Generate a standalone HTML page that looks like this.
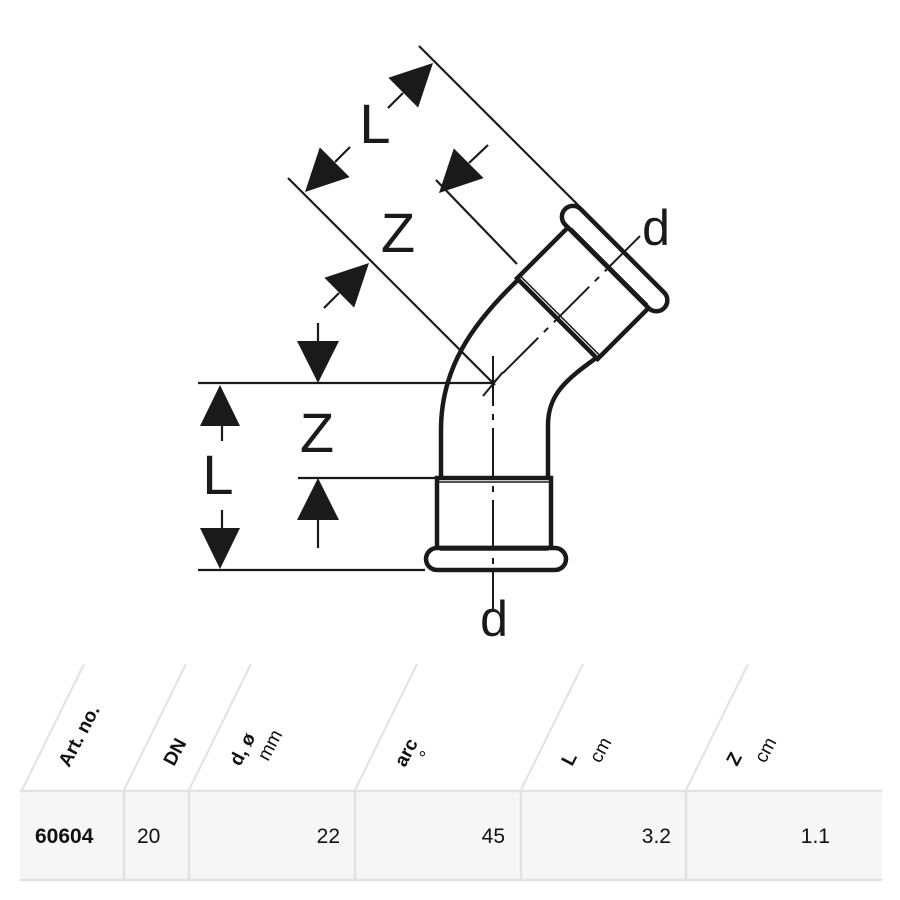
<!DOCTYPE html>
<html><head><meta charset="utf-8"><style>
html,body{margin:0;padding:0;background:#fff;}
svg{display:block;}
</style></head><body>
<svg width="900" height="900" viewBox="0 0 900 900" xmlns="http://www.w3.org/2000/svg">
<g stroke="#1a1a1a" fill="none" stroke-width="2.2">
  <line x1="198" y1="383" x2="495" y2="383"/>
  <line x1="298" y1="478" x2="437" y2="478"/>
  <line x1="198" y1="570" x2="425" y2="570"/>
  <line x1="288" y1="178" x2="495" y2="385"/>
  <line x1="419" y1="46" x2="582" y2="209"/>
  <line x1="436" y1="180" x2="517" y2="264"/>
  <line x1="222" y1="426" x2="222" y2="441"/>
  <line x1="222" y1="510" x2="222" y2="528"/>
  <line x1="318" y1="323" x2="318" y2="341"/>
  <line x1="318" y1="520" x2="318" y2="548"/>
  <line x1="403" y1="93" x2="388" y2="108"/>
  <line x1="335" y1="162" x2="350" y2="147"/>
  <line x1="469" y1="163" x2="488" y2="145"/>
  <line x1="339" y1="293" x2="324" y2="308"/>
</g>
<g fill="#1a1a1a">
  <polygon points="220,385 200,426 240,426"/>
  <polygon points="220,569 200,528 240,528"/>
  <polygon points="318,383 297,341 339,341"/>
  <polygon points="318,478 297,520 339,520"/>
  <polygon points="433,63 418.1,107.6 388.4,77.8"/>
  <polygon points="305,192 349.6,177.1 319.8,147.4"/>
  <polygon points="439,193 483.6,178.1 453.8,148.4"/>
  <polygon points="369,263 354.1,307.6 324.4,277.8"/>
</g>
<g font-family="Liberation Sans, sans-serif" fill="#1a1a1a" font-weight="normal">
  <text x="218" y="494" font-size="56" text-anchor="middle">L</text>
  <text x="317" y="452" font-size="56" text-anchor="middle">Z</text>
  <text x="375" y="143" font-size="56" text-anchor="middle">L</text>
  <text x="398" y="252" font-size="56" text-anchor="middle">Z</text>
  <text x="656" y="245" font-size="50" text-anchor="middle">d</text>
  <text x="494" y="636" font-size="50" text-anchor="middle">d</text>
</g>
<g stroke="#1a1a1a" fill="none">
  <path d="M441,478 L441,430 C441,370 470,325 521,277" stroke-width="4.5"/>
  <path d="M548,478 L548,425 C548,395 565,380 599,356" stroke-width="4.5"/>
  <rect x="437" y="478" width="114" height="70" stroke-width="4.5" fill="#fff"/>
  <line x1="439" y1="482" x2="549" y2="482" stroke-width="1.5"/>
  <rect x="426" y="548" width="140" height="22" rx="11" stroke-width="4.5" fill="#fff"/>
  <line x1="440" y1="550" x2="548" y2="550" stroke-width="1.5"/>
  <g transform="rotate(-135 493 383) translate(0 -4)">
    <rect x="436" y="478" width="114" height="72" stroke-width="4.5" fill="#fff"/>
    <line x1="438" y1="482" x2="548" y2="482" stroke-width="1.5"/>
    <rect x="425" y="550" width="140" height="22" rx="11" stroke-width="4.5" fill="#fff"/>
    <line x1="439" y1="552" x2="547" y2="552" stroke-width="1.5"/>
  </g>
  <line x1="493" y1="356" x2="493" y2="610" stroke-width="2" stroke-dasharray="50,8,6,8"/>
  <line x1="493" y1="383" x2="640" y2="236" stroke-width="2" stroke-dasharray="6,8,50,8"/>
  <line x1="483" y1="396" x2="503" y2="372" stroke-width="2"/>
</g>
<g stroke="#e2e2e2" stroke-width="2" fill="none">
  <line x1="22" y1="790" x2="84" y2="664"/>
  <line x1="124" y1="790" x2="186" y2="664"/>
  <line x1="189" y1="790" x2="251" y2="664"/>
  <line x1="355" y1="790" x2="417" y2="664"/>
  <line x1="521" y1="790" x2="583" y2="664"/>
  <line x1="686" y1="790" x2="748" y2="664"/>
</g>
<rect x="20" y="790" width="862" height="90" fill="#f6f6f6"/>
<g stroke="#e2e2e2" stroke-width="2.5">
  <line x1="20" y1="791" x2="882" y2="791"/>
  <line x1="20" y1="880" x2="882" y2="880"/>
  <line x1="124" y1="790" x2="124" y2="880"/>
  <line x1="189" y1="790" x2="189" y2="880"/>
  <line x1="355" y1="790" x2="355" y2="880"/>
  <line x1="521" y1="790" x2="521" y2="880"/>
  <line x1="686" y1="790" x2="686" y2="880"/>
</g>
<g font-family="Liberation Sans, sans-serif" fill="#111" font-size="19">
  <text transform="translate(69,768) rotate(-62)" font-weight="bold">Art. no.</text>
  <text transform="translate(174,767) rotate(-62)" font-weight="bold">DN</text>
  <text transform="translate(240,767) rotate(-62)" font-weight="bold">d, ø</text>
  <text transform="translate(268,762) rotate(-62)">mm</text>
  <text transform="translate(405,768) rotate(-62)" font-weight="bold">arc</text>
  <text transform="translate(430,762) rotate(-62)">°</text>
  <text transform="translate(572,767) rotate(-62)" font-weight="bold">L</text>
  <text transform="translate(600,764) rotate(-62)">cm</text>
  <text transform="translate(737,767) rotate(-62)" font-weight="bold">Z</text>
  <text transform="translate(765,764) rotate(-62)">cm</text>
</g>
<g font-family="Liberation Sans, sans-serif" fill="#111" font-size="21">
  <text x="35" y="843" font-weight="bold">60604</text>
  <text x="137" y="843">20</text>
  <text x="340" y="843" text-anchor="end">22</text>
  <text x="505" y="843" text-anchor="end">45</text>
  <text x="671" y="843" text-anchor="end">3.2</text>
  <text x="830" y="843" text-anchor="end">1.1</text>
</g>
</svg>
</body></html>
